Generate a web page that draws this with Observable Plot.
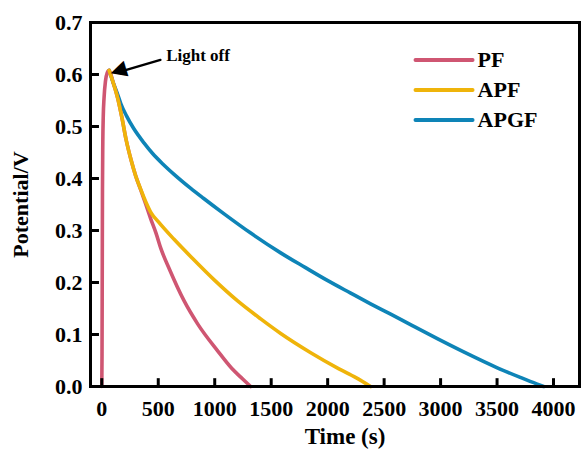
<!DOCTYPE html>
<html><head><meta charset="utf-8">
<script src="https://cdn.jsdelivr.net/npm/d3@7"></script>
<script src="https://cdn.jsdelivr.net/npm/@observablehq/plot@0.6"></script>
<style>
body{margin:0;background:#fff}
svg{font-family:"Liberation Serif","Times New Roman",serif;font-weight:bold}
</style>
</head><body><div id="chart"></div>
<script>
// Series names and colours
const seriesNames = ["PF", "APF", "APGF"];
const seriesColors = ["#CF5672", "#EFB40A", "#0E84B7"];

// PF (includes the charging rise)
const pfTime = [0, 2, 4, 6, 9, 13, 20, 33, 48, 65, 100, 140, 180, 215, 260, 300, 345, 390, 434, 480, 522, 600, 728, 850, 1024, 1150, 1250, 1318];
const pfPotential = [0, 0.06, 0.22, 0.38, 0.47, 0.52, 0.555, 0.588, 0.603, 0.608, 0.585, 0.555, 0.515, 0.475, 0.435, 0.405, 0.378, 0.35, 0.322, 0.295, 0.266, 0.225, 0.165, 0.12, 0.069, 0.035, 0.014, 0];

// APF
const apfTime = [65, 100, 140, 180, 215, 260, 300, 345, 390, 434, 500, 640, 800, 1000, 1200, 1407, 1584, 1850, 2100, 2250, 2380];
const apfPotential = [0.608, 0.585, 0.555, 0.515, 0.475, 0.435, 0.405, 0.379, 0.355, 0.335, 0.317, 0.283, 0.247, 0.204, 0.165, 0.13, 0.102, 0.065, 0.034, 0.017, 0];

// APGF
const apgfTime = [65, 100, 140, 168, 220, 280, 375, 450, 540, 640, 788, 900, 1083, 1319, 1584, 1800, 1997, 2200, 2380, 2558, 2750, 2971, 3200, 3502, 3700, 3850, 3912];
const apgfPotential = [0.608, 0.585, 0.562, 0.544, 0.52, 0.497, 0.468, 0.448, 0.428, 0.408, 0.381, 0.362, 0.332, 0.295, 0.257, 0.229, 0.204, 0.18, 0.159, 0.139, 0.117, 0.092, 0.067, 0.036, 0.018, 0.005, 0];

// Axes
const xTicks = [0, 500, 1000, 1500, 2000, 2500, 3000, 3500, 4000];
const yTicks = [0, 0.1, 0.2, 0.3, 0.4, 0.5, 0.6, 0.7];
const xDomain = [-100, 4230];
const yDomain = [0, 0.7];
const xTickLen = 75;    // inward tick length, x units
const yTickLen = 0.016; // inward tick length, y units

// Annotation
const annotationText = "Light off";
const arrowTail = {t: 519, v: 0.628};
const headPoint = {t: 150, v: 0.6045};
const annotationPos = {t: 570, v: 0.6356};

// Legend placement (data coordinates)
const legendX1 = 2778, legendX2 = 3283, legendTop = 0.628, legendStep = 0.0577;

const byName = {
  PF: [pfTime, pfPotential],
  APF: [apfTime, apfPotential],
  APGF: [apgfTime, apgfPotential]
};
// draw order: APGF below, then PF, then APF on top
const drawOrder = ["APGF", "PF", "APF"];
const rows = drawOrder.flatMap(name => byName[name][0].map((t, i) => ({series: name, t, v: byName[name][1][i]})));
const legendRows = seriesNames.map((name, i) => ({series: name, y: legendTop - i * legendStep}));
const xTickRows = xTicks.map(t => ({t, y1: yDomain[0], y2: yDomain[0] + yTickLen}));
const yTickRows = yTicks.map(v => ({v, x1: xDomain[0], x2: xDomain[0] + xTickLen}));

const chart = Plot.plot({
  width: 582,
  height: 452,
  marginLeft: 90,
  marginTop: 22,
  marginRight: 3,
  marginBottom: 66,
  x: {domain: xDomain},
  y: {domain: yDomain},
  color: {domain: seriesNames, range: seriesColors},
  marks: [
    Plot.line(rows, {x: "t", y: "v", z: "series", stroke: "series", strokeWidth: 3.6, curve: "monotone-x"}),
    Plot.link(xTickRows, {x1: "t", x2: "t", y1: "y1", y2: "y2", stroke: "black", strokeWidth: 3}),
    Plot.link(yTickRows, {y1: "v", y2: "v", x1: "x1", x2: "x2", stroke: "black", strokeWidth: 3}),
    Plot.axisX(xTicks, {label: null, tickSize: 0, tickPadding: 14, fontSize: 22, fill: "black", tickFormat: d => String(d)}),
    Plot.axisY(yTicks, {label: null, tickSize: 0, tickPadding: 8, fontSize: 22, fill: "black", tickFormat: d3.format(".1f")}),
    Plot.frame({stroke: "black", strokeWidth: 3}),
    Plot.link(legendRows, {x1: () => legendX1, x2: () => legendX2, y1: "y", y2: "y", stroke: "series", strokeWidth: 4, strokeLinecap: "round"}),
    Plot.text(legendRows, {x: () => legendX2, y: "y", text: "series", textAnchor: "start", dx: 5, fontSize: 22, fill: "black"}),
    Plot.arrow([0], {x1: () => arrowTail.t, y1: () => arrowTail.v, x2: () => headPoint.t, y2: () => headPoint.v, stroke: "black", strokeWidth: 2.4, headLength: 0}),
    Plot.text([0], {x: () => headPoint.t, y: () => headPoint.v, text: () => "\u25B6", rotate: 163, fontSize: 21, fill: "black", fontFamily: "DejaVu Sans"}),
    Plot.text([annotationText], {x: () => annotationPos.t, y: () => annotationPos.v, text: d => d, textAnchor: "start", fontSize: 17, fill: "black"}),
    Plot.text(["Time (s)"], {frameAnchor: "bottom", lineAnchor: "middle", textAnchor: "middle", dy: 50, dx: 10, text: d => d, fontSize: 23, fill: "black"}),
    Plot.text(["Potential/V"], {frameAnchor: "left", lineAnchor: "middle", textAnchor: "middle", dx: -70, rotate: -90, text: d => d, fontSize: 22, fill: "black"})
  ]
});
document.getElementById("chart").appendChild(chart);
</script>
</body></html>
